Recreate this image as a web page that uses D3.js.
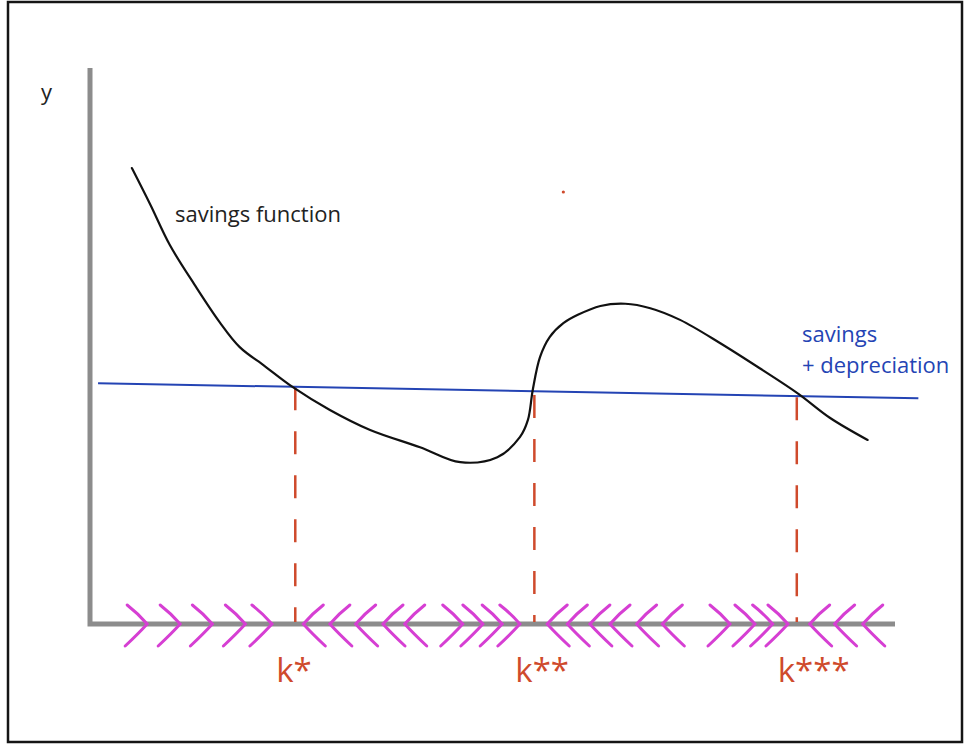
<!DOCTYPE html>
<html>
<head>
<meta charset="utf-8">
<script src="https://cdn.jsdelivr.net/npm/d3@7"></script>
<style>
  body { margin: 0; background: #fff; }
  svg { display: block; }
  text { font-family: "Open Sans", "Noto Sans", sans-serif; }
</style>
</head>
<body>
<svg id="chart" width="970" height="750"></svg>
<script>
// savings function, sketched (k, y)
var savingsK = [5.2, 7.5, 9.9, 13.0, 16.1, 18.6, 21.7, 25.2, 29.8, 34.8, 41.0, 46.0, 50.6, 53.4, 54.4, 55.0, 55.9, 57.1, 58.8, 60.6, 63.4, 66.5, 69.6, 73.3, 78.3, 83.2, 88.0, 91.9, 96.6];
var savingsY = [82.0, 75.4, 68.2, 61.0, 54.3, 49.8, 46.4, 42.6, 38.5, 34.9, 31.8, 29.1, 30.0, 33.6, 36.7, 42.1, 48.0, 51.6, 54.1, 55.6, 57.2, 57.6, 56.8, 54.7, 50.5, 46.0, 41.4, 37.1, 33.1];

// savings + depreciation line (two end points)
var deprK = [1.0, 102.9];
var deprY = [43.3, 40.6];

// steady states
var steadyK = [25.5, 55.2, 87.8];
var steadyTop = [42.6, 41.2, 40.8];
var steadyLabels = ["k*", "k**", "k***"];

// arrows along the k axis: tips, pointing right / left
var arrowsRight = [7.1, 11.2, 15.2, 19.3, 22.6, 46.3, 48.8, 51.2, 53.4, 79.5, 82.6, 84.8, 86.7];
var arrowsLeft = [26.5, 29.8, 33.0, 36.4, 39.1, 56.8, 59.3, 62.1, 64.6, 67.9, 71.1, 89.4, 92.5, 96.0];

var svg = d3.select("#chart");

var x = d3.scaleLinear().domain([0, 100]).range([90, 895]);
var y = d3.scaleLinear().domain([0, 100]).range([624, 68]);

var red = "#cf4a2c", blue = "#2444b4", magenta = "#d63fd3";

// frame
svg.append("rect")
  .attr("x", 8).attr("y", 2)
  .attr("width", 954).attr("height", 740)
  .attr("fill", "none")
  .attr("stroke", "#151515")
  .attr("stroke-width", 2.5);

// axes (pencil-like)
svg.append("path")
  .attr("d", d3.line()([[x(0), y(100)], [x(0), y(0)], [x(100), y(0)]]))
  .attr("fill", "none")
  .attr("stroke", "#8c8c8c")
  .attr("stroke-width", 5)
  .attr("stroke-linejoin", "miter");

svg.append("text")
  .attr("x", 41).attr("y", 100)
  .attr("font-size", 22)
  .attr("fill", "#222")
  .text("y");

// dashed steady-state drops
steadyK.forEach(function(k, i) {
  svg.append("line")
    .attr("x1", x(k)).attr("x2", x(k))
    .attr("y1", y(steadyTop[i])).attr("y2", y(0) - 2)
    .attr("stroke", red)
    .attr("stroke-width", 2.5)
    .attr("stroke-dasharray", "23,21");
  svg.append("text")
    .attr("x", x(k) - 19).attr("y", 682)
    .attr("font-size", 33)
    .attr("fill", red)
    .text(steadyLabels[i]);
});

// savings + depreciation
svg.append("line")
  .attr("x1", x(deprK[0])).attr("y1", y(deprY[0]))
  .attr("x2", x(deprK[1])).attr("y2", y(deprY[1]))
  .attr("stroke", blue)
  .attr("stroke-width", 2);

// savings function
var pts = savingsK.map(function(k, i) { return [x(k), y(savingsY[i])]; });
svg.append("path")
  .attr("d", d3.line().curve(d3.curveCatmullRom.alpha(0.5))(pts))
  .attr("fill", "none")
  .attr("stroke", "#111")
  .attr("stroke-width", 2.2)
  .attr("stroke-linecap", "round");

svg.append("text")
  .attr("x", 175).attr("y", 222)
  .attr("font-size", 22)
  .attr("fill", "#222")
  .text("savings function");

svg.append("text")
  .attr("x", 802).attr("y", 342)
  .attr("font-size", 22)
  .attr("fill", blue)
  .text("savings");
svg.append("text")
  .attr("x", 802).attr("y", 373)
  .attr("font-size", 22)
  .attr("fill", blue)
  .text("+ depreciation");

// stray dot
svg.append("circle")
  .attr("cx", x(58.8)).attr("cy", y(77.7))
  .attr("r", 1.6)
  .attr("fill", red);

// chevrons
function chevron(tip, dir) {
  var tx = x(tip), ty = y(0);
  var w = 20 * dir, up = 19, dn = 22;
  return "M" + (tx - w) + "," + (ty - up) +
    " Q" + (tx - w * 0.45) + "," + (ty - up * 0.55) + " " + tx + "," + ty +
    " Q" + (tx - w * 0.45) + "," + (ty + dn * 0.45) + " " + (tx - w * 1.1) + "," + (ty + dn);
}

svg.selectAll("path.right")
  .data(arrowsRight)
  .enter().append("path")
  .attr("class", "right")
  .attr("d", function(d) { return chevron(d, 1); })
  .attr("fill", "none")
  .attr("stroke", magenta)
  .attr("stroke-width", 3)
  .attr("stroke-linecap", "round");

svg.selectAll("path.left")
  .data(arrowsLeft)
  .enter().append("path")
  .attr("class", "left")
  .attr("d", function(d) { return chevron(d, -1); })
  .attr("fill", "none")
  .attr("stroke", magenta)
  .attr("stroke-width", 3)
  .attr("stroke-linecap", "round");
</script>
</body>
</html>
